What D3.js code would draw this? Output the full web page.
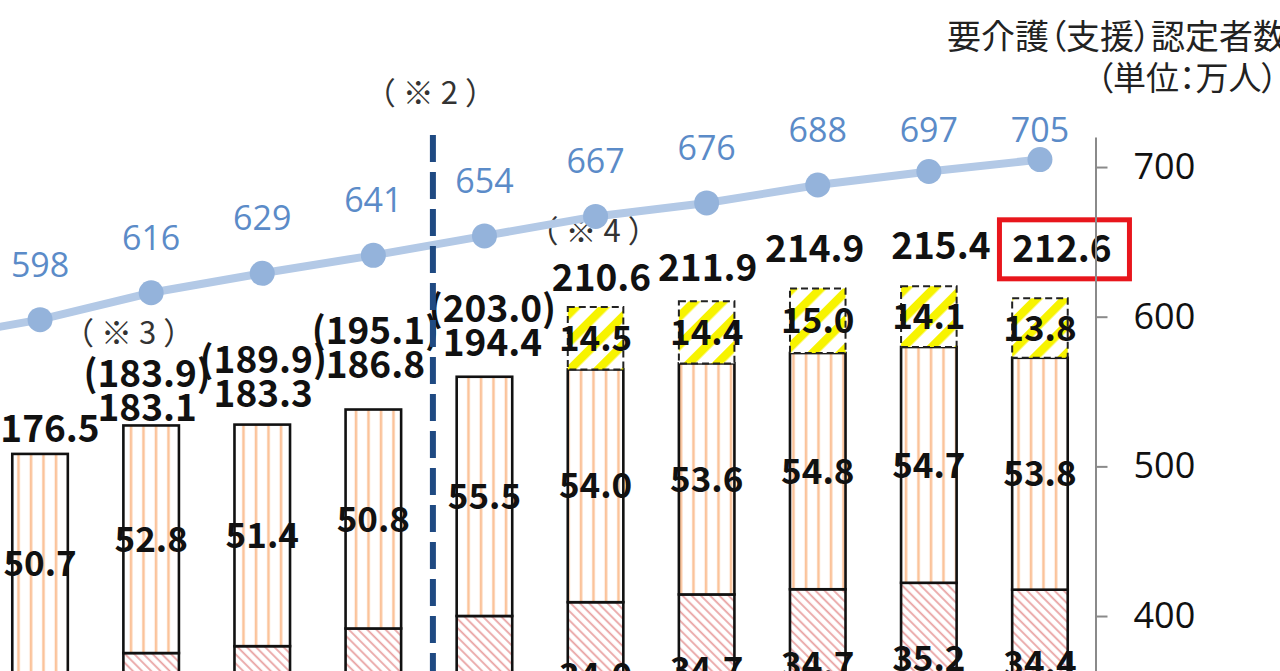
<!DOCTYPE html>
<html>
<head>
<meta charset="utf-8">
<script src="https://cdn.jsdelivr.net/npm/d3@7"></script>
<style>
  body { margin: 0; background: #fff; overflow: hidden; }
  svg { display: block; }
  .cjk { font-family: "Noto Sans CJK JP", sans-serif; }
</style>
</head>
<body>
<svg id="chart" width="1280" height="671"></svg>
<script>
// data (介護職員数 bars in 万人, 要介護認定者数 line in 万人)
var years = ["2013", "2014", "2015", "2016", "2017", "2018", "2019", "2020", "2021", "2022", "2023"];
var certified = [585, 598, 616, 629, 641, 654, 667, 676, 688, 697, 705];
var staffTotal = [null, 176.5, 183.1, 183.3, 186.8, 194.4, 210.6, 211.9, 214.9, 215.4, 212.6];
var staffAlt = [null, null, 183.9, 189.9, 195.1, 203.0, null, null, null, null, null];
var visitSeg = [null, 50.7, 52.8, 51.4, 50.8, 55.5, 54.0, 53.6, 54.8, 54.7, 53.8];
var daySeg = [null, 33.0, 33.5, 33.5, 33.5, 33.5, 34.0, 34.7, 34.7, 35.2, 34.4];
var generalSeg = [null, 0, 0, 0, 0, 0, 14.5, 14.4, 15.0, 14.1, 13.8];
var rightTicks = [0, 100, 200, 300, 400, 500, 600, 700];
var highlightYear = "2023";
var breakAfter = "2017";
var noteBreak = "（※2）";
var noteYears = ["2015", "2019"];
var noteTexts = ["（※3）", "（※4）"];
var titleLines = ["要介護（支援）認定者数", "（単位：万人）"];

//layout
var svg = d3.select("#chart");
var plotTop = 137.1, plotBottom = 1214.7;

var x = d3.scaleBand()
    .domain(years)
    .range([-126.6, 1095.5])
    .paddingInner(0.5)
    .paddingOuter(0.25);

var yBar = d3.scaleLinear().domain([0, 250]).range([plotBottom, plotTop]);
var yLine = d3.scaleLinear().domain([0, 720]).range([plotBottom, plotTop]);

var fmt = d3.format(".1f");
var numFont = '"Noto Sans CJK JP", sans-serif';
var latFont = '"Open Sans", sans-serif';

//patterns
var defs = svg.append("defs");

var pStripe = defs.append("pattern")
    .attr("id", "orangeStripe")
    .attr("patternUnits", "userSpaceOnUse")
    .attr("width", 12.5).attr("height", 10);
pStripe.append("rect").attr("width", 12.5).attr("height", 10).attr("fill", "#fff");
pStripe.append("line").attr("x1", 6).attr("x2", 6).attr("y1", 0).attr("y2", 10)
    .attr("stroke", "#fbc39a").attr("stroke-width", 2.6);

var pPink = defs.append("pattern")
    .attr("id", "pinkHatch")
    .attr("patternUnits", "userSpaceOnUse")
    .attr("width", 6.5).attr("height", 10)
    .attr("patternTransform", "rotate(-45)");
pPink.append("rect").attr("width", 6.5).attr("height", 10).attr("fill", "#fff");
pPink.append("line").attr("x1", 3).attr("x2", 3).attr("y1", 0).attr("y2", 10)
    .attr("stroke", "#e9a3a3").attr("stroke-width", 1.8);

var pYellow = defs.append("pattern")
    .attr("id", "yellowHatch")
    .attr("patternUnits", "userSpaceOnUse")
    .attr("width", 20).attr("height", 10)
    .attr("patternTransform", "rotate(45)");
pYellow.append("rect").attr("width", 20).attr("height", 10).attr("fill", "#fff");
pYellow.append("rect").attr("x", 0).attr("width", 8.5).attr("height", 10).attr("fill", "#f7f300");

//stacked bars
var stackKeys = ["rest", "day", "visit", "general"];
var barRows = years.map(function(yr, i) {
    return { year: yr, total: staffTotal[i], alt: staffAlt[i], day: daySeg[i], visit: visitSeg[i], general: generalSeg[i] };
}).filter(function(d) { return d.total != null; });
barRows.forEach(function(d) { d.rest = d.total - d.day - d.visit - d.general; });

var stacked = d3.stack().keys(stackKeys)(barRows);
var segFill = { rest: "#fff", day: "url(#pinkHatch)", visit: "url(#orangeStripe)", general: "url(#yellowHatch)" };

var barLayer = svg.append("g").attr("class", "bars");
barLayer.selectAll("g")
    .data(stacked)
    .enter().append("g")
    .attr("class", function(d) { return "layer " + d.key; })
    .each(function(layer) {
        d3.select(this).selectAll("rect")
            .data(layer.filter(function(d) { return d[1] - d[0] > 0; }))
            .enter().append("rect")
            .attr("x", function(d) { return x(d.data.year); })
            .attr("width", x.bandwidth())
            .attr("y", function(d) { return yBar(d[1]); })
            .attr("height", function(d) { return yBar(d[0]) - yBar(d[1]); })
            .attr("fill", segFill[layer.key])
            .attr("stroke", layer.key == "general" ? "#222" : "#111")
            .attr("stroke-width", layer.key == "general" ? 2 : 2.6)
            .attr("stroke-dasharray", layer.key == "general" ? "7,4" : null);
    });

//segment values (the ones that fall below the cropped frame are left out)
var labelKeys = ["day", "visit", "general"];
var frameBottom = 671;
stacked.filter(function(s) { return labelKeys.includes(s.key); }).forEach(function(layer) {
    barLayer.append("g")
        .selectAll("text")
        .data(layer.filter(function(d) {
            return d[1] - d[0] > 0 && (yBar(d[0]) + yBar(d[1])) / 2 - 14 < frameBottom;
        }))
        .enter().append("text")
        .attr("x", function(d) { return x(d.data.year) + x.bandwidth() / 2; })
        .attr("y", function(d) { return (yBar(d[0]) + yBar(d[1])) / 2; })
        .attr("dy", "0.36em")
        .attr("text-anchor", "middle")
        .style("font-family", numFont)
        .style("font-weight", 700)
        .style("font-size", "35px")
        .style("fill", "#111")
        .text(function(d) { return fmt(d.data[layer.key]); });
});

//total labels, hand nudged as in the original slide
var totalLift = { "2014": 12, "2015": 4, "2016": 18, "2017": 32, "2018": 21, "2019": 16, "2020": 20, "2021": 26, "2022": 27, "2023": 36 };
var totalShift = { "2014": 10, "2015": -4, "2016": 1, "2017": 2, "2018": 8, "2019": 6, "2020": 1, "2021": -3, "2022": 12, "2023": 22 };
function labelX(d) { return x(d.year) + x.bandwidth() / 2 + (totalShift[d.year] || 0); }
function labelY(d) { return yBar(d.total) - (totalLift[d.year] || 16); }

var totals = svg.append("g").attr("class", "totals");
totals.selectAll("text.total")
    .data(barRows)
    .enter().append("text")
    .attr("class", "total")
    .attr("x", labelX)
    .attr("y", labelY)
    .attr("text-anchor", "middle")
    .style("font-family", numFont)
    .style("font-weight", 700)
    .style("font-size", "37px")
    .style("fill", "#111")
    .text(function(d) { return fmt(d.total); });

totals.selectAll("text.alt")
    .data(barRows.filter(function(d) { return d.alt != null; }))
    .enter().append("text")
    .attr("class", "alt")
    .attr("x", labelX)
    .attr("y", function(d) { return labelY(d) - 34; })
    .attr("text-anchor", "middle")
    .style("font-family", numFont)
    .style("font-weight", 700)
    .style("font-size", "37px")
    .style("fill", "#111")
    .text(function(d) { return "(" + fmt(d.alt) + ")"; });

//highlight box
var hl = barRows.find(function(d) { return d.year == highlightYear; });
totals.append("rect")
    .attr("x", labelX(hl) - 62.5)
    .attr("y", labelY(hl) - 42.5)
    .attr("width", 130)
    .attr("height", 59)
    .attr("fill", "none")
    .attr("stroke", "#e8161c")
    .attr("stroke-width", 5);

//notes
var noteNudge = { "2015": [-22, -43], "2019": [-2, -49] };
var noteLayer = svg.append("g").attr("class", "notes");
noteYears.forEach(function(yr, i) {
    var row = barRows.find(function(d) { return d.year == yr; });
    var top = row.alt != null ? labelY(row) - 34 : labelY(row);
    noteLayer.append("text")
        .attr("x", x(yr) + x.bandwidth() / 2 + noteNudge[yr][0] + 3)
        .attr("y", top + noteNudge[yr][1])
        .attr("text-anchor", "middle")
        .style("font-family", numFont)
        .style("font-size", "31px")
        .style("letter-spacing", "7px")
        .style("fill", "#333")
        .text(noteTexts[i]);
});

//line series (right axis)
var lineData = years.map(function(yr, i) { return { year: yr, value: certified[i] }; });
var cx = function(d) { return x(d.year) + x.bandwidth() / 2; };

svg.append("path")
    .datum(lineData)
    .attr("fill", "none")
    .attr("stroke", "#b3c9e6")
    .attr("stroke-width", 8)
    .attr("d", d3.line().x(cx).y(function(d) { return yLine(d.value); }));

svg.append("g")
    .selectAll("circle")
    .data(lineData)
    .enter().append("circle")
    .attr("cx", cx)
    .attr("cy", function(d) { return yLine(d.value); })
    .attr("r", 12.5)
    .attr("fill", "#94b3db");

svg.append("g")
    .selectAll("text")
    .data(lineData)
    .enter().append("text")
    .attr("x", cx)
    .attr("y", function(d) { return Math.max(yLine(d.value) - 43, 142); })
    .attr("text-anchor", "middle")
    .style("font-family", latFont)
    .style("font-size", "34px")
    .style("fill", "#5b8bc8")
    .text(function(d) { return d.value; });

//break line (※2)
var breakX = x(breakAfter) + x.bandwidth() / 2 + x.step() / 2 + 4;
svg.append("line")
    .attr("x1", breakX).attr("x2", breakX)
    .attr("y1", 135).attr("y2", 700)
    .attr("stroke", "#1f4a82")
    .attr("stroke-width", 6)
    .attr("stroke-dasharray", "27,10");
svg.append("text")
    .attr("x", breakX + 1)
    .attr("y", 104)
    .attr("text-anchor", "middle")
    .style("font-family", numFont)
    .style("font-size", "31px")
    .style("letter-spacing", "7px")
    .style("fill", "#333")
    .text(noteBreak);

//right axis
var axisR = svg.append("g")
    .attr("transform", "translate(" + x.range()[1] + ",0)")
    .call(d3.axisRight(yLine).tickValues(rightTicks).tickSize(12).tickSizeOuter(0).tickPadding(26));
axisR.select(".domain").attr("stroke", "#8a8a8a").attr("stroke-width", 2);
axisR.selectAll(".tick line").attr("stroke", "#8a8a8a").attr("stroke-width", 2);
axisR.selectAll(".tick text")
    .style("font-family", latFont)
    .style("font-size", "36px")
    .style("fill", "#111");

//unit title
var title = svg.append("g").attr("class", "cjk");
title.append("text")
    .attr("x", 947).attr("y", 49)
    .style("font-size", "34px")
    .style("font-feature-settings", '"palt"')
    .style("fill", "#222")
    .text(titleLines[0]);
title.append("text")
    .attr("x", 1278).attr("y", 90)
    .attr("text-anchor", "end")
    .style("font-size", "33px")
    .style("font-feature-settings", '"palt"')
    .style("fill", "#222")
    .text(titleLines[1]);
</script>
</body>
</html>
